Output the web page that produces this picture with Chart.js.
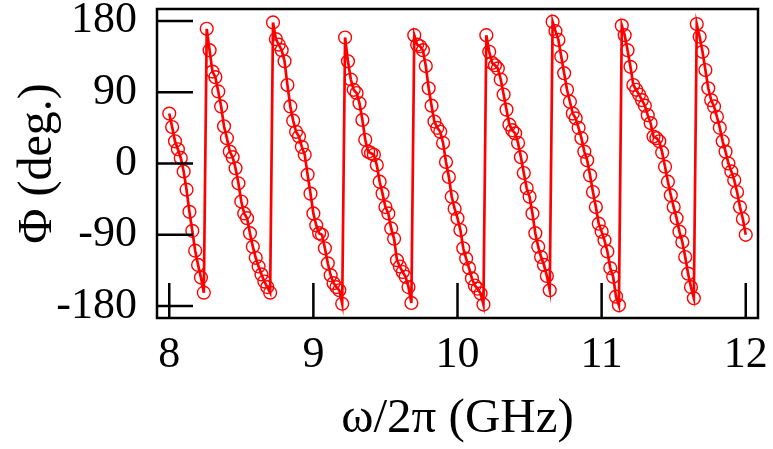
<!DOCTYPE html>
<html>
<head>
<meta charset="utf-8">
<script src="https://cdn.jsdelivr.net/npm/chart.js@4/dist/chart.umd.min.js"></script>
<style>
  html, body { margin: 0; padding: 0; background: #fff; }
  #wrap { width: 773px; height: 449px; }
</style>
</head>
<body>
<div id="wrap"><canvas id="c" width="773" height="449"></canvas></div>
<script>
// Frequency samples (GHz)
const freqGHz = [
  8.00, 8.02, 8.04, 8.06, 8.08, 8.10, 8.12, 8.14, 8.16, 8.18, 8.20, 8.22, 8.24,
  8.26, 8.28, 8.30, 8.32, 8.34, 8.36, 8.38, 8.40, 8.42, 8.44, 8.46, 8.48, 8.50, 8.52, 8.54, 8.56, 8.58, 8.60, 8.62, 8.64, 8.66, 8.68, 8.70,
  8.72, 8.74, 8.76, 8.78, 8.80, 8.82, 8.84, 8.86, 8.88, 8.90, 8.92, 8.94, 8.96, 8.98, 9.00, 9.02, 9.04, 9.06, 9.08, 9.10, 9.12, 9.14, 9.16, 9.18, 9.20,
  9.22, 9.24, 9.26, 9.28, 9.30, 9.32, 9.34, 9.36, 9.38, 9.40, 9.42, 9.44, 9.46, 9.48, 9.50, 9.52, 9.54, 9.56, 9.58, 9.60, 9.62, 9.64, 9.66, 9.68,
  9.70, 9.72, 9.74, 9.76, 9.78, 9.80, 9.82, 9.84, 9.86, 9.88, 9.90, 9.92, 9.94, 9.96, 9.98, 10.00, 10.02, 10.04, 10.06, 10.08, 10.10, 10.12, 10.14, 10.16, 10.18,
  10.20, 10.22, 10.24, 10.26, 10.28, 10.30, 10.32, 10.34, 10.36, 10.38, 10.40, 10.42, 10.44, 10.46, 10.48, 10.50, 10.52, 10.54, 10.56, 10.58, 10.60, 10.62, 10.64,
  10.66, 10.68, 10.70, 10.72, 10.74, 10.76, 10.78, 10.80, 10.82, 10.84, 10.86, 10.88, 10.90, 10.92, 10.94, 10.96, 10.98, 11.00, 11.02, 11.04, 11.06, 11.08, 11.10, 11.12,
  11.14, 11.16, 11.18, 11.20, 11.22, 11.24, 11.26, 11.28, 11.30, 11.32, 11.34, 11.36, 11.38, 11.40, 11.42, 11.44, 11.46, 11.48, 11.50, 11.52, 11.54, 11.56, 11.58, 11.60, 11.62, 11.64,
  11.66, 11.68, 11.70, 11.72, 11.74, 11.76, 11.78, 11.80, 11.82, 11.84, 11.86, 11.88, 11.90, 11.92, 11.94, 11.96, 11.98, 12.00
];

// Measured phase (degrees), wrapped to [-180, 180]
const phaseDeg = [
  63, 46, 28, 18, 7, -10, -33, -61, -85, -110, -128, -144, -163,
  170, 143, 116, 109, 91, 72, 47, 32, 15, 8, -6, -25, -48, -63, -69, -88, -105, -119, -130, -140, -149, -156, -163,
  178, 157, 150, 143, 129, 99, 72, 54, 40, 34, 21, 11, -14, -38, -63, -78, -88, -90, -107, -126, -141, -151, -156, -160, -177,
  159, 129, 106, 93, 89, 76, 55, 30, 15, 13, 11, -2, -23, -38, -55, -63, -82, -95, -122, -130, -137, -143, -156, -176,
  162, 150, 148, 143, 123, 95, 73, 53, 45, 40, 26, 2, -17, -42, -57, -69, -84, -107, -120, -132, -145, -154, -158, -164, -178,
  162, 141, 127, 124, 120, 106, 87, 68, 49, 42, 38, 26, 8, -12, -31, -42, -63, -88, -105, -118, -128, -142, -160,
  179, 167, 156, 135, 114, 93, 78, 63, 57, 45, 32, 15, 4, -15, -36, -55, -76, -86, -97, -111, -132, -143, -168, -179,
  174, 162, 143, 122, 99, 93, 87, 80, 73, 61, 51, 34, 32, 28, 14, -4, -23, -40, -55, -69, -86, -99, -118, -139, -156, -170,
  176, 160, 141, 118, 95, 80, 72, 59, 45, 28, 15, 0, -10, -21, -36, -55, -70, -90
];

const xTickValues = [8, 9, 10, 11, 12];
const yTickValues = [-180, -90, 0, 90, 180];
const xTitle = 'ω/2π (GHz)';
const yTitle = 'Φ (deg.)';

const points = freqGHz.map((f, i) => ({ x: f, y: phaseDeg[i] }));
const serif = "'Liberation Serif', 'DejaVu Serif', serif";

// Closed frame with inward major ticks on the bottom and left edges
const framePlugin = {
  id: 'frame',
  afterDatasetsDraw(chart) {
    const { ctx, chartArea: a, scales: { x, y } } = chart;
    ctx.save();
    ctx.strokeStyle = '#000';
    ctx.lineWidth = 2.5;
    ctx.beginPath();
    xTickValues.forEach(v => {
      const px = x.getPixelForValue(v);
      ctx.moveTo(px, a.bottom);
      ctx.lineTo(px, a.bottom - 35);
    });
    yTickValues.forEach(v => {
      const py = y.getPixelForValue(v);
      ctx.moveTo(a.left, py);
      ctx.lineTo(a.left + 36, py);
    });
    ctx.stroke();
    ctx.strokeRect(a.left, a.top, a.right - a.left, a.bottom - a.top);
    ctx.restore();
  }
};

function noEdgePadding(scale) {
  scale.paddingTop = 0;
  scale.paddingBottom = 0;
  scale.paddingLeft = 0;
  scale.paddingRight = 0;
}

new Chart(document.getElementById('c'), {
  type: 'line',
  data: {
    datasets: [{
      data: points,
      borderColor: '#ff0000',
      borderWidth: 2.7,
      tension: 0,
      fill: false,
      pointStyle: 'circle',
      pointRadius: 6.4,
      pointHoverRadius: 6.4,
      pointBorderWidth: 1.4,
      pointBorderColor: '#ff0000',
      pointBackgroundColor: 'rgba(0,0,0,0)'
    }]
  },
  options: {
    responsive: false,
    animation: false,
    devicePixelRatio: 1,
    layout: { autoPadding: false, padding: { top: 9, right: 15, left: 0, bottom: 0 } },
    plugins: { legend: { display: false }, tooltip: { enabled: false } },
    scales: {
      x: {
        type: 'linear',
        min: 7.915,
        max: 12.085,
        afterBuildTicks: s => { s.ticks = xTickValues.map(v => ({ value: v })); },
        afterFit: s => { s.height = 131; noEdgePadding(s); },
        grid: { display: true, drawOnChartArea: false, drawTicks: false, color: 'rgba(0,0,0,0)' },
        border: { display: false },
        ticks: {
          padding: 15,
          maxRotation: 0,
          autoSkip: false,
          color: '#000',
          font: { family: serif, size: 44, lineHeight: 1 },
          callback: v => String(v)
        },
        title: {
          display: true,
          text: xTitle,
          color: '#000',
          font: { family: serif, size: 49, lineHeight: 1 },
          padding: { top: 0, bottom: 5 }
        }
      },
      y: {
        type: 'linear',
        min: -195,
        max: 195,
        afterBuildTicks: s => { s.ticks = yTickValues.map(v => ({ value: v })); },
        afterFit: s => { s.width = 157; noEdgePadding(s); },
        grid: { display: true, drawOnChartArea: false, drawTicks: false, color: 'rgba(0,0,0,0)' },
        border: { display: false },
        ticks: {
          padding: 20,
          autoSkip: false,
          color: '#000',
          font: { family: serif, size: 44, lineHeight: 1 },
          callback: v => String(v)
        },
        title: {
          display: true,
          text: yTitle,
          color: '#000',
          font: { family: serif, size: 48, lineHeight: 1 },
          padding: { top: 14, bottom: 0 }
        }
      }
    }
  },
  plugins: [framePlugin]
});
</script>
</body>
</html>
